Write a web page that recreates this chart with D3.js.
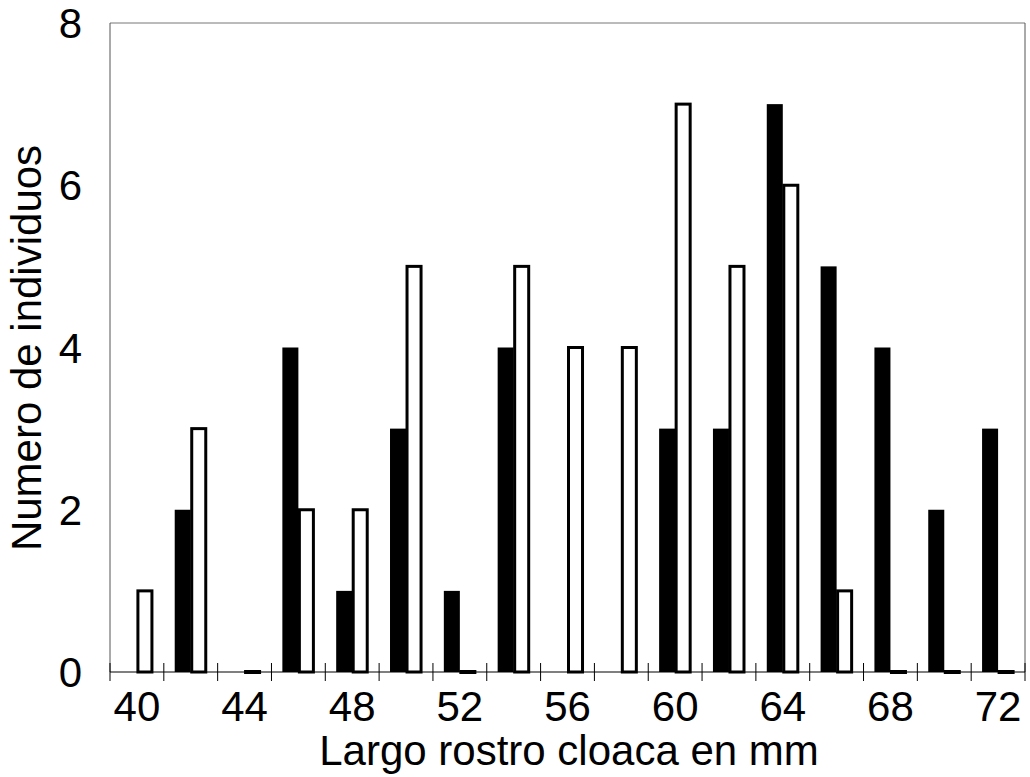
<!DOCTYPE html>
<html>
<head>
<meta charset="utf-8">
<script src="https://cdn.jsdelivr.net/npm/d3@7"></script>
<style>
  body { margin: 0; background: #fff; }
  svg text { font-family: "Liberation Sans", Arial, sans-serif; fill: #000; }
</style>
</head>
<body>
<svg id="chart"></svg>
<script>
"use strict";
const WIDTH = 1030;
const HEIGHT = 777;

// largo rostro-cloaca (mm)
const categories = [40, 42, 44, 46, 48, 50, 52, 54, 56, 58, 60, 62, 64, 66, 68, 70, 72];
const serieNegra  = [0, 2, 0, 4, 1, 3, 1, 4, 0, 0, 3, 3, 7, 5, 4, 2, 3];
const serieBlanca = [1, 3, 0, 2, 2, 5, 0, 5, 4, 4, 7, 5, 6, 1, 0, 0, 0];
const xTickLabels = [40, 44, 48, 52, 56, 60, 64, 68, 72];
const yTicks = [0, 2, 4, 6, 8];

const margin = {top: 23, right: 5, bottom: 105, left: 110};
const x0Left = margin.left, x0Right = WIDTH - margin.right;
const yBottom = HEIGHT - margin.bottom;
const FONT = 42;

const svg = d3.select('#chart')
    .attr('width', WIDTH)
    .attr('height', HEIGHT);

const x0 = d3.scaleBand()
    .domain(categories)
    .range([x0Left, x0Right])
    .paddingInner(0)
    .paddingOuter(0);

const x1 = d3.scaleBand()
    .domain(['negro', 'blanco'])
    .range([0, x0.bandwidth()])
    .paddingInner(0)
    .paddingOuter(0.68);

const y = d3.scaleLinear()
    .domain([0, 8])
    .range([yBottom, margin.top]);

// marco
svg.append('line')
    .attr('x1', x0Left).attr('y1', margin.top)
    .attr('x2', x0Right).attr('y2', margin.top)
    .attr('stroke', '#777').attr('stroke-width', 1);
svg.append('line')
    .attr('x1', x0Right).attr('y1', margin.top)
    .attr('x2', x0Right).attr('y2', yBottom)
    .attr('stroke', '#555').attr('stroke-width', 1);
svg.append('line')
    .attr('x1', x0Left).attr('y1', margin.top)
    .attr('x2', x0Left).attr('y2', yBottom)
    .attr('stroke', '#555').attr('stroke-width', 1);

const rows = categories.map((c, i) => ({c: c, negro: serieNegra[i], blanco: serieBlanca[i]}));

const groups = svg.append('g').selectAll('g')
    .data(rows)
    .join('g')
    .attr('transform', d => `translate(${x0(d.c)},0)`);

// barras negras
groups.filter(d => d.negro > 0)
    .append('rect')
    .attr('x', x1('negro'))
    .attr('width', x1.bandwidth())
    .attr('y', d => y(d.negro))
    .attr('height', d => y(0) - y(d.negro))
    .attr('fill', '#000');

// barras blancas (contorno)
groups.filter(d => d.blanco > 0)
    .append('rect')
    .attr('x', x1('blanco') + 1)
    .attr('width', x1.bandwidth() - 2)
    .attr('y', d => y(d.blanco))
    .attr('height', d => y(0) - y(d.blanco))
    .attr('fill', '#fff')
    .attr('stroke', '#000')
    .attr('stroke-width', 3);

// blancas en cero: solo el trazo
groups.filter(d => d.blanco === 0)
    .append('line')
    .attr('x1', x1('blanco') - 0.5)
    .attr('x2', x1('blanco') + x1.bandwidth() + 0.5)
    .attr('y1', y(0)).attr('y2', y(0))
    .attr('stroke', '#000')
    .attr('stroke-width', 4);

// eje x
svg.append('line')
    .attr('x1', x0Left).attr('y1', yBottom)
    .attr('x2', x0Right).attr('y2', yBottom)
    .attr('stroke', '#000').attr('stroke-width', 1.2);

const bounds = categories.map(c => x0(c)).concat([x0Right]);
svg.append('g').selectAll('line')
    .data(bounds)
    .join('line')
    .attr('x1', d => d).attr('x2', d => d)
    .attr('y1', yBottom - 9).attr('y2', yBottom + 9)
    .attr('stroke', '#000').attr('stroke-width', 1);

svg.append('g').selectAll('text')
    .data(xTickLabels)
    .join('text')
    .attr('x', d => x0(d) + x0.bandwidth() / 2)
    .attr('y', 721)
    .attr('text-anchor', 'middle')
    .attr('font-size', FONT)
    .text(d => d);

// eje y
svg.append('g').selectAll('text')
    .data(yTicks)
    .join('text')
    .attr('x', 82)
    .attr('y', d => y(d) + 15)
    .attr('text-anchor', 'end')
    .attr('font-size', FONT)
    .text(d => d);

// titulos
svg.append('text')
    .attr('x', 569)
    .attr('y', 765)
    .attr('text-anchor', 'middle')
    .attr('font-size', FONT)
    .text('Largo rostro cloaca en mm');

svg.append('text')
    .attr('transform', 'translate(41,348) rotate(-90)')
    .attr('text-anchor', 'middle')
    .attr('font-size', FONT)
    .text('Numero de individuos');
</script>
</body>
</html>
